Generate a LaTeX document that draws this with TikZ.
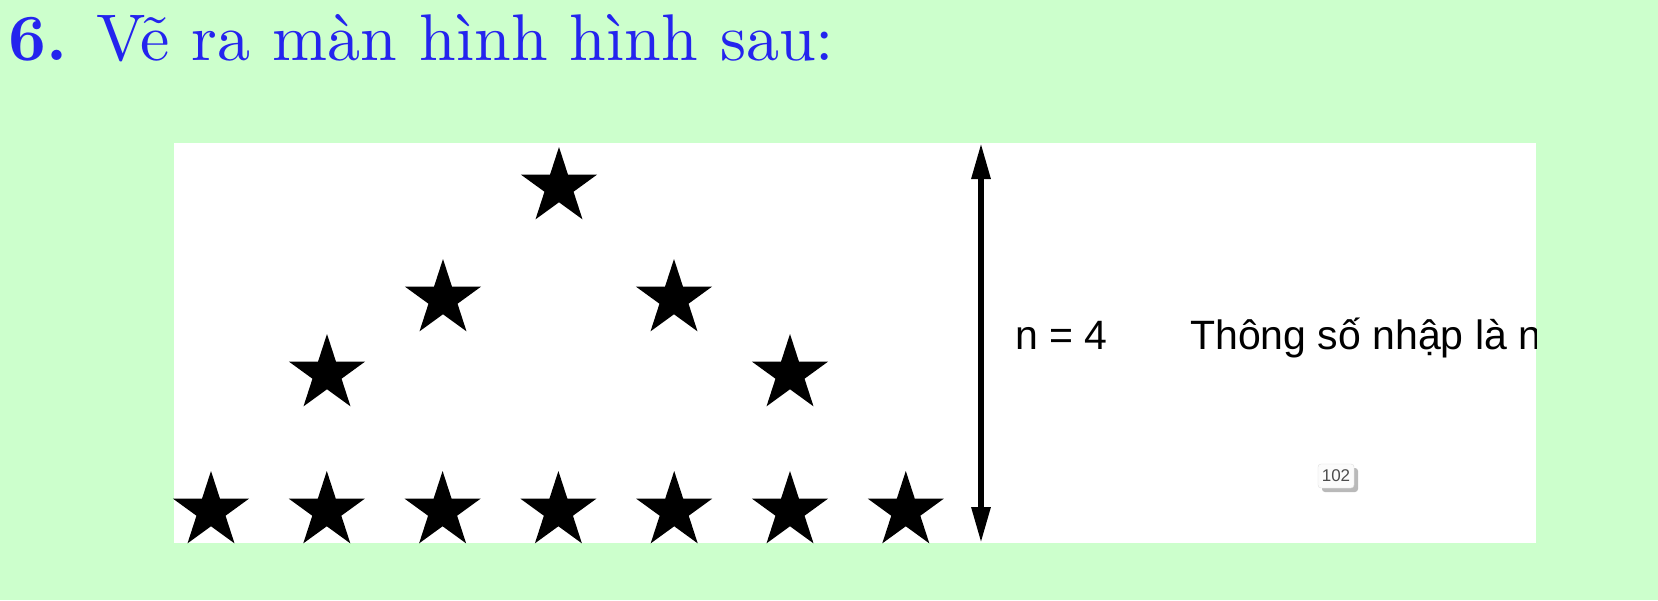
\documentclass[tikz,border=0pt]{standalone}
\usepackage{fontspec}
\newfontfamily\arialfont{Liberation Sans}
\newfontfamily\tieudefont{lmroman10-regular.otf}[BoldFont=lmroman10-bold.otf]
\usetikzlibrary{shapes.geometric,arrows.meta,shadows}
\definecolor{nen}{RGB}{204,255,204}
\definecolor{xanh}{RGB}{36,36,238}
\tikzset{
	sao/.style={star, star points=5, star point ratio=2.618, fill=black, inner sep=0pt, outer sep=0pt, minimum size=80pt},
	chu/.style={anchor=base west, inner sep=0pt, font=\arialfont\fontsize{41}{41}\selectfont}
}
\begin{document}
\begin{tikzpicture}[x=1pt, y=-1pt, line join=round, line cap=round]
	\fill[nen] (0,0) rectangle (1658,600);
	\useasboundingbox (0,0) rectangle (1658,600);
	\node[anchor=base west, inner sep=0pt, text=xanh, font=\tieudefont\fontsize{66}{72}\selectfont] (tieude) at (8,60) {\textbf{6.} Vẽ ra màn hình hình sau:};
	\fill[white] (174,143) rectangle (1536,543);
	% hang duoi
	\foreach \i in {0,...,6}
		\node[sao] (d\i) at ({211+115.8*\i},511) {};
	\node[sao] (dinh) at (559,187) {};
	\node[sao] (t1) at (443,299) {};
	\node[sao] (p1) at (674,299) {};
	\node[sao] (t2) at (327,374) {};
	\node[sao] (p2) at (790,374) {};
	% mui ten chieu cao
	\coordinate (tren) at (981,143);
	\coordinate (duoi) at (981,543);
	\draw[line width=6pt, line cap=butt, {Triangle[length=36pt,width=18pt]}-{Triangle[length=36pt,width=18pt]}] (tren) -- (duoi);
	\begin{scope}
		\clip (174,143) rectangle (1536,543);
		\node[chu] (nbang) at (1015,349) {n = 4};
		\node[chu] (thongso) at (1190,349) {Thông số nhập là n};
	\end{scope}
	\node[draw=gray!25, fill=gray!3, rounded corners=3pt, minimum width=36pt, minimum height=24pt, inner sep=0pt, text=gray!60!black, font=\arialfont\fontsize{17}{17}\selectfont, drop shadow={shadow xshift=4pt, shadow yshift=-4pt, fill=gray!55, opacity=1}] (sotrang) at (1336,476) {102};
\end{tikzpicture}
\end{document}
